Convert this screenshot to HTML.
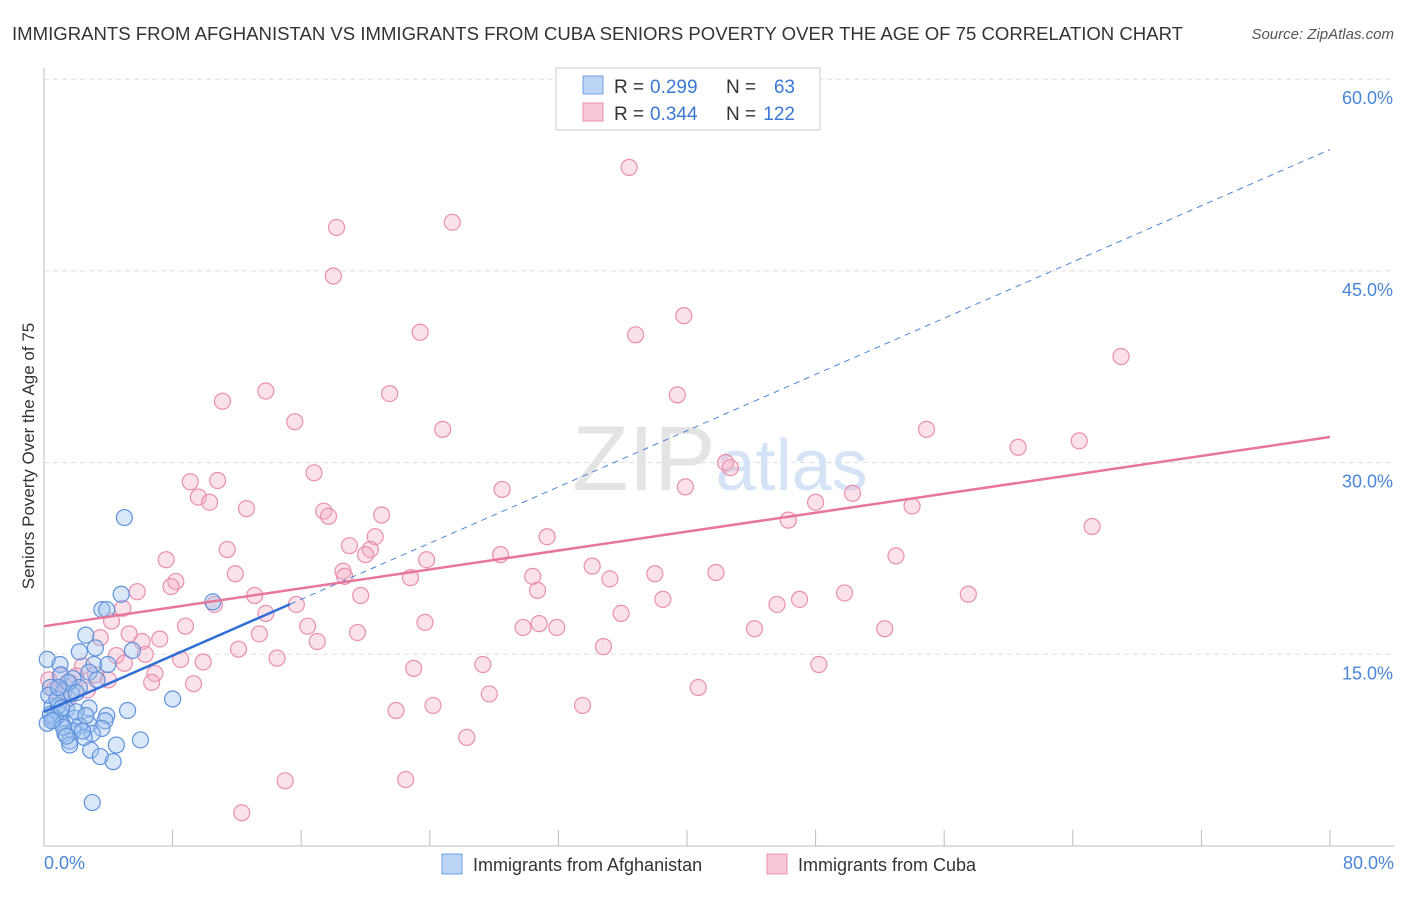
<!DOCTYPE html>
<html><head><meta charset="utf-8"><style>
body{margin:0;background:#fff;font-family:"Liberation Sans",sans-serif;}
svg text{font-family:"Liberation Sans",sans-serif;}
</style></head><body>
<svg width="1406" height="892" viewBox="0 0 1406 892">
<text x="12" y="40" font-size="18" fill="#333" textLength="1171" lengthAdjust="spacingAndGlyphs">IMMIGRANTS FROM AFGHANISTAN VS IMMIGRANTS FROM CUBA SENIORS POVERTY OVER THE AGE OF 75 CORRELATION CHART</text>
<text x="1394" y="39" font-size="15" fill="#555" font-style="italic" text-anchor="end">Source: ZipAtlas.com</text>
<g id="grid"></g>
<text x="720" y="490" font-size="92" fill="#e4e4e4" text-anchor="middle" font-family="Liberation Serif">ZIP<tspan fill="#d4e3f5" font-family="Liberation Sans" font-size="72">atlas</tspan></text>
<line x1="44" y1="68" x2="44" y2="846" stroke="#bbb"/>
<line x1="44" y1="846" x2="1394" y2="846" stroke="#bbb"/>
<text x="34" y="456" font-size="17" fill="#333" text-anchor="middle" transform="rotate(-90 34 456)">Seniors Poverty Over the Age of 75</text>
<text x="44" y="869" font-size="18" fill="#4a86d8">0.0%</text>
<text x="1394" y="869" font-size="18" fill="#4a86d8" text-anchor="end">80.0%</text>
<g id="pts"></g>
<g id="lines"></g>
<g>
<rect x="556" y="68" width="264" height="62" fill="#fff" stroke="#ccc"/>
<rect x="583" y="76" width="20" height="18" fill="#bcd5f5" stroke="#6f9fe0"/>
<rect x="583" y="103" width="20" height="18" fill="#f8c8d7" stroke="#e890ac"/>
<text x="614" y="93" font-size="19" fill="#333">R =</text>
<text x="650" y="93" font-size="19" fill="#3a78d4">0.299</text>
<text x="726" y="93" font-size="19" fill="#333">N =</text>
<text x="795" y="93" font-size="19" fill="#3a78d4" text-anchor="end">63</text>
<text x="614" y="120" font-size="19" fill="#333">R =</text>
<text x="650" y="120" font-size="19" fill="#3a78d4">0.344</text>
<text x="726" y="120" font-size="19" fill="#333">N =</text>
<text x="795" y="120" font-size="19" fill="#3a78d4" text-anchor="end">122</text>
</g>
<g>
<rect x="442" y="854" width="20" height="20" fill="#bcd5f5" stroke="#6f9fe0"/>
<text x="473" y="871" font-size="18" fill="#333">Immigrants from Afghanistan</text>
<rect x="767" y="854" width="20" height="20" fill="#f8c8d7" stroke="#e890ac"/>
<text x="798" y="871" font-size="18" fill="#333">Immigrants from Cuba</text>
</g>
</svg>
<script>
const yTicks=[15,30,45,60];
const yTickLabels=["15.0%","30.0%","45.0%","60.0%"];
const xTicks=[0,8,16,24,32,40,48,56,64,72,80];
const cubaX=[36.4,25.4,18.2,18.0,39.8,23.4,36.8,67.0,13.8,21.5,39.4,11.1,15.6,24.8,54.9,64.4,60.6,42.4,42.7,16.8,9.1,10.8,39.9,28.5,50.3,9.6,10.3,48.0,54.0,12.6,17.4,17.7,21.0,46.3,65.2,20.6,31.3,19.0,20.3,11.4,20.0,28.4,53.0,7.6,23.8,34.1,18.6,18.7,11.9,38.0,41.8,30.4,22.8,35.2,8.2,7.9,30.7,5.8,19.7,13.1,57.5,49.8,47.0,38.5,45.6,10.6,4.9,15.7,13.8,35.9,4.2,23.7,8.8,30.8,16.4,29.8,31.9,44.2,52.3,19.5,13.4,5.3,3.5,7.2,17.0,6.1,12.1,34.8,6.3,4.5,14.5,8.5,9.9,5.0,27.3,48.2,2.4,23.0,6.9,3.2,6.7,9.3,1.6,0.6,27.7,40.7,24.2,33.5,21.9,26.3,15.0,22.5,12.3,1.0,2.0,2.7,1.2,0.3,1.5,4.0];
const cubaY=[53.1,48.8,48.4,44.6,41.5,40.2,40.0,38.3,35.6,35.4,35.3,34.8,33.2,32.6,32.6,31.7,31.2,30.0,29.6,29.2,28.5,28.6,28.1,27.9,27.6,27.3,26.9,26.9,26.6,26.4,26.2,25.8,25.9,25.5,25.0,24.2,24.2,23.5,23.2,23.2,22.8,22.8,22.7,22.4,22.4,21.9,21.5,21.1,21.3,21.3,21.4,21.1,21.0,20.9,20.7,20.3,20.0,19.9,19.6,19.6,19.7,19.8,19.3,19.3,18.9,18.9,18.6,18.9,18.2,18.2,17.6,17.5,17.2,17.4,17.2,17.1,17.1,17.0,17.0,16.7,16.6,16.6,16.3,16.2,16.0,16.0,15.4,15.6,15.0,14.9,14.7,14.6,14.4,14.3,14.2,14.2,14.1,13.9,13.5,13.4,12.8,12.7,12.8,12.2,11.9,12.4,11.0,11.0,10.6,8.5,5.1,5.2,2.6,13.3,13.3,12.2,12.0,13.0,11.5,13.0];
const afgX=[5.0,4.8,10.5,3.6,3.9,2.6,3.2,5.5,2.2,0.2,1.0,3.1,3.97,2.8,1.05,1.8,2.2,0.4,1.2,1.7,8.0,2.8,0.5,1.4,5.2,3.9,1.0,1.9,0.6,3.8,1.1,2.8,2.2,3.6,1.8,1.3,3.0,2.5,6.0,1.6,4.5,2.9,3.5,4.3,3.0,1.6,0.7,0.3,0.9,1.5,2.0,0.4,1.2,2.4,0.8,1.1,0.2,2.0,3.3,0.5,1.4,0.9,2.6];
const afgY=[25.7,19.7,19.1,18.5,18.5,16.5,15.5,15.3,15.2,14.6,14.2,14.2,14.2,13.6,13.4,13.1,12.4,12.4,12.1,11.9,11.5,10.8,10.9,10.7,10.6,10.2,10.3,10.0,9.9,9.8,9.6,9.5,9.4,9.2,9.0,8.8,8.8,8.5,8.3,8.2,7.9,7.5,7.0,6.6,3.4,7.9,10.0,11.8,11.0,12.8,10.5,10.3,9.3,9.0,11.5,10.8,9.6,12.0,13.0,9.8,8.6,12.4,10.2];
const afgTrend=[10.5,0.55], cubaTrend=[17.2,0.185];
const NS="http://www.w3.org/2000/svg";
const X=v=>44+v*16.075, Y=v=>846-v*12.78;
function mk(t,a,p){const e=document.createElementNS(NS,t);for(const k in a)e.setAttribute(k,a[k]);p.appendChild(e);return e;}
const grid=document.getElementById('grid');
yTicks.forEach((t,i)=>{
 const l=mk('line',{x1:44,x2:1394,y1:Y(t),y2:Y(t),stroke:'#ddd','stroke-dasharray':'5,4'},grid);
 
 
 const tx=mk('text',{x:1393,y:Y(t)+25,'font-size':18,fill:'#4a86d8','text-anchor':'end'},grid);
 tx.textContent=yTickLabels[i];
 
 
});
xTicks.forEach(t=>{
 const l=mk('line',{x1:X(t),x2:X(t),y1:830,y2:846,stroke:'#bbb'},grid);
 
 
});
const pts=document.getElementById('pts');
cubaX.forEach((x,i)=>{
 const c=mk('circle',{cx:X(x),cy:Y(cubaY[i]),r:8,fill:'rgba(244,170,195,0.35)',stroke:'#ea8fae','stroke-width':1.2},pts);
 
 
});
afgX.forEach((x,i)=>{
 const c=mk('circle',{cx:X(x),cy:Y(afgY[i]),r:8,fill:'rgba(160,195,240,0.4)',stroke:'#5f93dc','stroke-width':1.2},pts);
 
 
});
const lines=document.getElementById('lines');
let l1=mk('line',{x1:X(15.3),y1:Y(afgTrend[0]+afgTrend[1]*15.3),x2:X(80),y2:Y(afgTrend[0]+afgTrend[1]*80),stroke:'#4a86d8','stroke-width':1,'stroke-dasharray':'6,5'},lines);


let l2=mk('line',{x1:X(0),y1:Y(afgTrend[0]),x2:X(15.3),y2:Y(afgTrend[0]+afgTrend[1]*15.3),stroke:'#2f6fd6','stroke-width':2.5},lines);


let l3=mk('line',{x1:X(0),y1:Y(cubaTrend[0]),x2:X(80),y2:Y(cubaTrend[0]+cubaTrend[1]*80),stroke:'#e8769a','stroke-width':2.5},lines);


</script>
</body></html>
